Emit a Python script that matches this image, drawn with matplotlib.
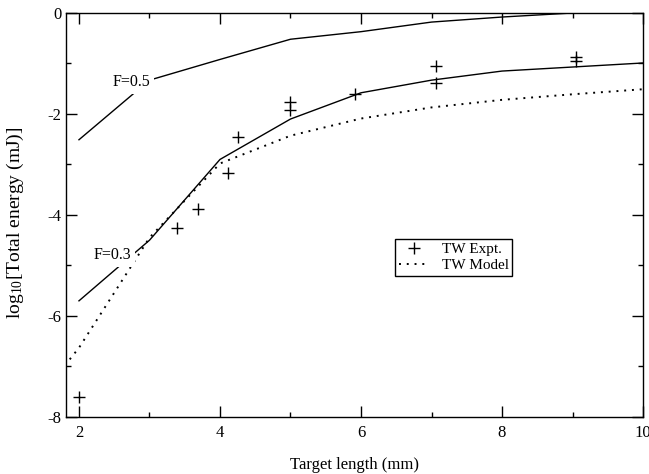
import matplotlib
matplotlib.use("Agg")
import matplotlib.pyplot as plt
from matplotlib.ticker import MultipleLocator

plt.rcParams['font.family'] = ['Liberation Serif', 'DejaVu Serif']
plt.rcParams['mathtext.fontset'] = 'stix'
plt.rcParams['axes.unicode_minus'] = False

# fluence curves
f05_x = [2, 3, 4, 5, 6, 7, 8, 9]
f05_y = [-2.51, -1.33, -0.92, -0.52, -0.37, -0.18, -0.08, 0.0]

f03_x = [2, 3, 4, 5, 6, 7, 8, 9, 10]
f03_y = [-5.70, -4.50, -2.90, -2.10, -1.58, -1.33, -1.15, -1.07, -0.99]

# travelling-wave model
model_x = [1.8, 2, 3, 4, 5, 6, 7, 8, 9, 10]
model_y = [-6.98, -6.63, -4.45, -2.98, -2.43, -2.09, -1.87, -1.72, -1.61, -1.51]

# travelling-wave measurements
expt_x = [2, 3.39, 3.69, 4.11, 4.26, 5.0, 5.0, 5.91, 7.06, 7.06, 9.05, 9.05]
expt_y = [-7.6, -4.25, -3.88, -3.17, -2.45, -1.76, -1.92, -1.60, -1.05, -1.39, -0.87, -0.96]

fig = plt.figure(figsize=(6.49, 4.74), dpi=100)
ax = fig.add_axes([0.1017, 0.1203, 0.8891, 0.8523])

ax.plot(f05_x, f05_y, color='black', lw=1.0)
ax.plot(f03_x, f03_y, color='black', lw=1.0)
ax.plot(model_x, model_y, color='black', lw=1.4, linestyle=(0, (1, 3)),
        label='TW Model')
ax.plot(expt_x, expt_y, linestyle='none', marker='+', ms=8.5, mew=1.0,
        color='black', label='TW Expt.')

box = dict(facecolor='white', edgecolor='none', pad=2.5)
ax.text(2.74, -1.37, 'F=0.5', fontsize=11.5, ha='center', va='center', bbox=box, zorder=5)
ax.text(2.48, -4.80, 'F=0.3', fontsize=11.5, ha='center', va='center', bbox=box, zorder=5)

ax.set_xlim(1.816, 10)
ax.set_ylim(-8, 0)
ax.xaxis.set_major_locator(MultipleLocator(2))
ax.xaxis.set_minor_locator(MultipleLocator(1))
ax.yaxis.set_major_locator(MultipleLocator(2))
ax.yaxis.set_minor_locator(MultipleLocator(1))
ax.tick_params(which='both', direction='in', top=True, right=True, labelsize=12)
ax.tick_params(which='major', length=8, width=1.0)
ax.tick_params(which='minor', length=3.5, width=1.0)
ax.tick_params(axis='x', pad=6)
for s in ax.spines.values():
    s.set_linewidth(1.0)

ax.set_xlabel('Target length (mm)', fontsize=12)
ax.set_ylabel(r'$\mathregular{log_{10}}$[Total energy (mJ)]', fontsize=14)
ax.xaxis.set_label_coords(0.5, -0.098)
ax.yaxis.set_label_coords(-0.07, 0.48)

handles, labels = ax.get_legend_handles_labels()
leg = ax.legend(handles[::-1], labels[::-1], loc='lower left',
                bbox_to_anchor=(0.570, 0.349), borderaxespad=0, fontsize=11,
                fancybox=False, edgecolor='black', framealpha=1,
                handlelength=2.0, handletextpad=0.8, borderpad=0.25,
                labelspacing=0.15)
leg.get_frame().set_linewidth(1.0)

fig.savefig('out.png', dpi=100)
